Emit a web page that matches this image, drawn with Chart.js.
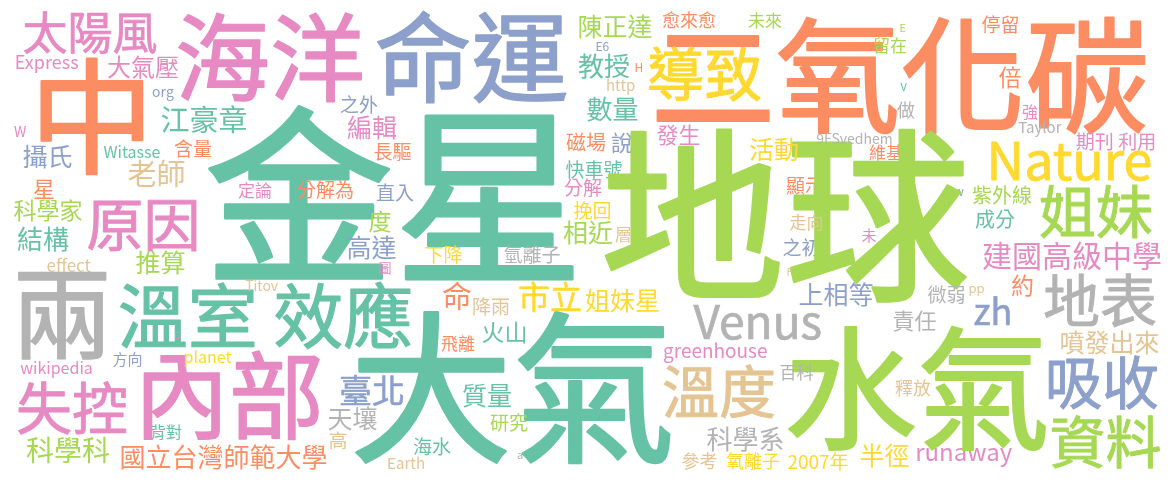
<!DOCTYPE html>
<html>
<head>
<meta charset="utf-8">
<script src="https://cdn.jsdelivr.net/npm/chart.js@4"></script>
<style>
  html, body { margin: 0; padding: 0; background: #fff; }
  #wrap { width: 1175px; height: 482px; }
</style>
</head>
<body>
<div id="wrap"><canvas id="cloud"></canvas></div>
<script>
// each word: [text, size, x, y]  (x, y = centre of the word in the 1175x482 layout)
let tealWords = [
    ["金星", 190, 391, 192], ["大氣", 163, 513, 387], ["溫室 效應", 70, 265, 315],
    ["江豪章", 29, 204, 119], ["Witasse", 16, 132, 151], ["結構", 26, 43, 239],
    ["背對", 16, 166, 432], ["火山", 23, 504, 332], ["質量", 25, 487, 395],
    ["海水", 19, 432, 446], ["教授", 26, 604, 66], ["數量", 26, 612, 109],
    ["快車號", 19, 594, 169], ["V", 11, 904, 87], ["成分", 20, 995, 219]
];
let orangeWords = [
    ["二氧化碳", 125, 901, 75], ["中", 125, 92, 116], ["國立台灣師範大學", 26, 224, 457],
    ["含量", 19, 193, 148], ["星", 22, 44, 189], ["長驅", 19, 393, 152],
    ["分解為", 19, 325, 190], ["命", 30, 457, 296], ["飛離", 17, 458, 343],
    ["H", 12, 639, 67], ["愈來愈", 18, 689, 20], ["磁場", 20, 586, 142],
    ["維基", 17, 886, 152], ["顯示", 19, 805, 186], ["停留", 19, 1000, 24],
    ["倍", 23, 1010, 77], ["約", 23, 1022, 285]
];
let blueWords = [
    ["命運", 97, 472, 57], ["方向", 15, 127, 360], ["org", 14, 163, 95],
    ["攝氏", 25, 47, 156], ["之外", 19, 359, 104], ["直入", 19, 395, 192],
    ["高達", 25, 372, 247], ["臺北", 33, 372, 390], ["E6", 12, 603, 46],
    ["說", 22, 622, 143], ["之初", 19, 801, 247], ["上相等", 25, 836, 294],
    ["tw", 12, 957, 191], ["zh", 36, 992, 310], ["吸收", 57, 1103, 382]
];
let pinkWords = [
    ["海洋", 95, 270, 57], ["內部", 95, 232, 395], ["失控", 56, 72, 408],
    ["wikipedia", 16, 56, 369], ["D", 11, 178, 335], ["太陽風", 45, 90, 32],
    ["Express", 18, 47, 64], ["大氣壓", 24, 143, 67], ["W", 14, 20, 131],
    ["定論", 17, 255, 190], ["原因", 57, 142, 225], ["編輯", 25, 372, 127],
    ["圖", 13, 385, 268], ["發生", 22, 678, 135], ["分解", 19, 583, 188],
    ["未", 15, 869, 235], ["強", 16, 1030, 112], ["期刊 利用", 19, 1115, 141],
    ["建國高級中學", 30, 1072, 256], ["runaway", 24, 965, 457], ["greenhouse", 19, 715, 352]
];
let limeWords = [
    ["地球", 185, 786, 215], ["水氣", 133, 917, 388], ["科學科", 28, 68, 450],
    ["科學家", 23, 48, 210], ["推算", 25, 160, 262], ["度", 23, 380, 221],
    ["研究", 19, 509, 422], ["陳正達", 25, 616, 26], ["未來", 17, 765, 20],
    ["相近", 25, 588, 232], ["E", 11, 903, 28], ["留在", 17, 890, 45],
    ["姐妹", 57, 1096, 212], ["紫外線", 20, 1002, 195], ["資料", 56, 1106, 442]
];
let yellowWords = [
    ["導致", 58, 705, 74], ["Nature", 52, 1071, 161], ["planet", 16, 208, 358],
    ["下降", 19, 444, 254], ["市立", 32, 550, 297], ["姐妹星", 25, 622, 300],
    ["活動", 25, 774, 149], ["挽回", 19, 592, 210], ["半徑", 25, 885, 455],
    ["氧離子", 18, 753, 461], ["2007年", 19, 818, 461]
];
let tanWords = [
    ["溫度", 57, 719, 391], ["老師", 29, 156, 173], ["effect", 17, 69, 264],
    ["Titov", 14, 262, 285], ["降雨", 19, 491, 306], ["高", 19, 338, 440],
    ["Earth", 15, 406, 462], ["http", 15, 621, 86], ["層", 17, 623, 235],
    ["走向", 17, 806, 222], ["F", 11, 790, 272], ["pp", 13, 977, 291],
    ["噴發出來", 25, 1110, 342], ["釋放", 18, 913, 388], ["參考", 18, 699, 461]
];
let grayWords = [
    ["兩", 100, 62, 315], ["氫離子", 19, 532, 254], ["天壤", 25, 353, 418],
    ["a", 11, 520, 456], ["9FSvedhem", 14, 854, 138], ["做", 18, 906, 110],
    ["Taylor", 15, 1040, 128], ["微弱", 19, 946, 295], ["地表", 57, 1100, 300],
    ["責任", 22, 915, 321], ["Venus", 46, 757, 322], ["百科", 17, 797, 372],
    ["科學系", 26, 745, 439]
];

let groups = [
    { words: tealWords, color: "#66c2a5" },
    { words: orangeWords, color: "#fc8d62" },
    { words: blueWords, color: "#8da0cb" },
    { words: pinkWords, color: "#e78ac3" },
    { words: limeWords, color: "#a6d854" },
    { words: yellowWords, color: "#ffd92f" },
    { words: tanWords, color: "#e5c494" },
    { words: grayWords, color: "#b3b3b3" }
];

const FONT = '"Noto Sans CJK TC", "Noto Sans", sans-serif';

// draws each point as its word, centred on the point
// a thin round stroke gives the soft, rounded look of the original font
const wordPlugin = {
    id: "words",
    afterDatasetsDraw(chart) {
        let ctx = chart.ctx;
        ctx.save();
        ctx.textAlign = "left";
        ctx.textBaseline = "alphabetic";
        ctx.lineJoin = "round";
        ctx.lineCap = "round";
        chart.data.datasets.forEach((ds, i) => {
            let meta = chart.getDatasetMeta(i);
            meta.data.forEach((pt, j) => {
                let d = ds.data[j];
                ctx.font = d.size + "px " + FONT;
                ctx.fillStyle = ds.wordColor;
                ctx.strokeStyle = ds.wordColor;
                ctx.lineWidth = d.size * 0.016;
                let m = ctx.measureText(d.word);
                let x0 = pt.x - (m.actualBoundingBoxRight - m.actualBoundingBoxLeft) / 2;
                let y0 = pt.y + (m.actualBoundingBoxAscent - m.actualBoundingBoxDescent) / 2;
                ctx.fillText(d.word, x0, y0);
                if (d.size > 30) ctx.strokeText(d.word, x0, y0);
            });
        });
        ctx.restore();
    }
};

new Chart(document.getElementById("cloud"), {
    type: "scatter",
    data: {
        datasets: groups.map(g => ({
            wordColor: g.color,
            pointRadius: 0,
            data: g.words.map(w => ({ word: w[0], size: w[1], x: w[2], y: w[3] }))
        }))
    },
    options: {
        responsive: true,
        maintainAspectRatio: false,
        animation: false,
        layout: { padding: 0 },
        plugins: { legend: { display: false }, tooltip: { enabled: false } },
        scales: {
            x: { display: false, min: 0, max: 1175 },
            y: { display: false, min: 0, max: 482, reverse: true }
        }
    },
    plugins: [wordPlugin]
});
</script>
</body>
</html>
